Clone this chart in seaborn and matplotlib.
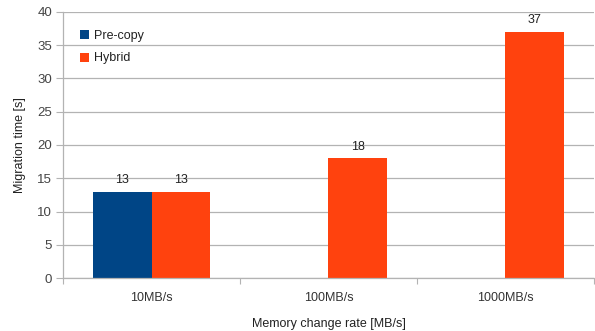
import numpy as np
import pandas as pd
import matplotlib
matplotlib.use("Agg")
import matplotlib.pyplot as plt
import seaborn as sns

# Migration time per memory change rate; pre-copy has no result at the higher rates
rates = ["10MB/s", "100MB/s", "1000MB/s"]
precopy = [13, np.nan, np.nan]
hybrid = [13, 18, 37]
methods = ["Pre-copy", "Hybrid"]
colors = ["#004586", "#ff420e"]
y_ticks = [0, 5, 10, 15, 20, 25, 30, 35, 40]

df = pd.DataFrame({
    "rate": rates * 2,
    "method": [methods[0]] * 3 + [methods[1]] * 3,
    "time": precopy + hybrid,
})

sns.set_theme(style="white")
plt.rcParams["font.family"] = ["Liberation Sans", "DejaVu Sans"]

fig = plt.figure(figsize=(5.95, 3.31), dpi=100)
ax = fig.add_axes([0.106, 0.160, 0.892, 0.804])

sns.barplot(data=df, x="rate", y="time", hue="method", order=rates,
            hue_order=methods, palette=colors, width=2 / 3, gap=0,
            saturation=1, ax=ax, linewidth=0, errorbar=None)

# value labels above each drawn bar
for cont in ax.containers:
    labels = ["" if np.isnan(v) else f"{v:.0f}" for v in cont.datavalues]
    ax.bar_label(cont, labels=labels, padding=4, fontsize=9, color="#222222")

ax.set_ylim(0, 40)
ax.set_xlim(-0.5, 2.5)
ax.set_yticks(y_ticks)
ax.yaxis.grid(True, color="#b3b3b3", linewidth=0.9)
ax.set_axisbelow(True)

ax.set_xticks(range(len(rates)))
ax.set_xticklabels(rates)
ax.set_xticks([-0.5, 0.5, 1.5, 2.5], minor=True)
ax.tick_params(axis="x", which="major", length=0, pad=10, labelsize=9,
               labelcolor="#333333")
ax.tick_params(axis="x", which="minor", length=4, width=0.8, color="#b3b3b3",
               bottom=True)
ax.tick_params(axis="y", which="major", length=5, width=0.8, color="#b3b3b3",
               left=True, pad=3, labelsize=9.5, labelcolor="#444444")

for side in ["top", "right"]:
    ax.spines[side].set_visible(False)
for side in ["left", "bottom"]:
    ax.spines[side].set_color("#b3b3b3")
    ax.spines[side].set_linewidth(0.9)

ax.set_xlabel("Memory change rate [MB/s]", fontsize=9, color="#222222",
              labelpad=10)
ax.set_ylabel("Migration time [s]", fontsize=9, color="#222222", labelpad=8)

leg = ax.legend(loc="upper left", bbox_to_anchor=(0.01, 0.975), frameon=False,
                fontsize=9, handlelength=0.75, handleheight=0.75,
                handletextpad=0.4, labelspacing=0.85)
for t in leg.get_texts():
    t.set_color("#222222")

fig.savefig("out.png", dpi=100)
